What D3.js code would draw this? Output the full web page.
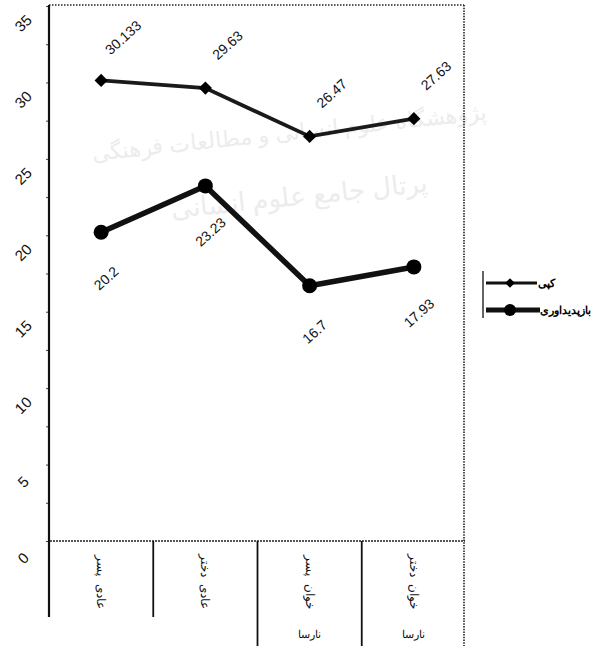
<!DOCTYPE html>
<html>
<head>
<meta charset="utf-8">
<script src="https://cdn.jsdelivr.net/npm/d3@7"></script>
<style>
  body { margin: 0; background: #fff; }
  svg { display: block; }
  text { font-family: "Liberation Sans", Arial, sans-serif; }
</style>
</head>
<body>
<svg id="chart" width="607" height="651"></svg>
<script>
// ---- data ----
const categories = ["پسر عادی", "دختر عادی", "پسر نارسا", "دختر نارسا"];
const catTop = ["پسر", "دختر", "پسر", "دختر"];
const catMid = ["عادی", "عادی", "خوان", "خوان"];
const catBottom = ["", "", "نارسا", "نارسا"];
const seriesNames = ["کپی", "بازپدیداوری"];
const copyValues = [30.133, 29.63, 26.47, 27.63];
const recallValues = [20.2, 23.23, 16.7, 17.93];
const copyLabels = ["30.133", "29.63", "26.47", "27.63"];
const recallLabels = ["20.2", "23.23", "16.7", "17.93"];
const yTicks = [0, 5, 10, 15, 20, 25, 30, 35];

const svg = d3.select("#chart");

// watermark
const wm = svg.append("g").attr("fill", "#ececec").attr("font-family", "'Noto Sans', 'DejaVu Sans', sans-serif");
wm.append("text").attr("x", 290).attr("y", 140).attr("text-anchor", "middle")
  .attr("font-size", 22).attr("transform", "rotate(-6,290,140)").text("پژوهشگاه علوم انسانی و مطالعات فرهنگی");
wm.append("text").attr("x", 300).attr("y", 205).attr("text-anchor", "middle")
  .attr("font-size", 26).attr("transform", "rotate(-6,300,205)").text("پرتال جامع علوم انسانی");

const x = d3.scaleBand().domain(categories).range([49, 466]).padding(0);
const y = d3.scaleLinear().domain([0, 35]).range([541, 6]);
const cx = c => x(c) + x.bandwidth() / 2;

// frame: dotted top/right/bottom
const frame = svg.append("g").attr("stroke", "#222").attr("fill", "none");
frame.append("line").attr("x1", 49).attr("x2", 464).attr("y1", 5).attr("y2", 5)
  .attr("stroke-width", 1.6).attr("stroke-dasharray", "1.5,1.5");
frame.append("line").attr("x1", 464).attr("x2", 464).attr("y1", 5).attr("y2", 646)
  .attr("stroke-width", 1.6).attr("stroke-dasharray", "1.5,1.2");
frame.append("line").attr("x1", 50).attr("x2", 465).attr("y1", y(0)).attr("y2", y(0))
  .attr("stroke-width", 1.6).attr("stroke-dasharray", "2,1");

// y axis
const yAxis = d3.axisLeft(y).tickValues(d3.range(0, 35.01, 2.5)).tickSize(3).tickFormat("");
const ya = svg.append("g").attr("transform", "translate(49,0)").call(yAxis);
ya.select(".domain").remove();
ya.selectAll(".tick line").attr("stroke", "#444").attr("stroke-width", 1);
svg.append("line").attr("x1", 49).attr("x2", 49).attr("y1", 5).attr("y2", 617)
  .attr("stroke", "#111").attr("stroke-width", 2.2);

// y tick labels (rotated)
svg.append("g").selectAll("text").data(yTicks).join("text")
  .attr("transform", d => `translate(23,${y(d) + 17}) rotate(-45)`)
  .attr("text-anchor", "middle").attr("dominant-baseline", "central")
  .attr("font-size", 15).attr("fill", "#111").text(d => d);

// category separators
const seps = svg.append("g").attr("stroke", "#111").attr("stroke-width", 1.8);
categories.forEach((c, i) => {
  if (i === 0) return;
  seps.append("line").attr("x1", x(c)).attr("x2", x(c)).attr("y1", y(0))
    .attr("y2", i >= 2 ? 646 : 617);
});

// category labels (rotated persian text)
const catG = svg.append("g").attr("font-family", "'Noto Sans', 'DejaVu Sans', sans-serif").attr("fill", "#111");
categories.forEach((c, i) => {
  catG.append("text").attr("transform", `translate(${cx(c)},565) rotate(90)`)
    .attr("text-anchor", "middle").attr("dominant-baseline", "central")
    .attr("font-size", 12).text(catTop[i]);
  catG.append("text").attr("transform", `translate(${cx(c)},596) rotate(90)`)
    .attr("text-anchor", "middle").attr("dominant-baseline", "central")
    .attr("font-size", 12).text(catMid[i]);
  if (catBottom[i]) {
    catG.append("text").attr("x", cx(c)).attr("y", 634).attr("text-anchor", "middle")
      .attr("dominant-baseline", "central").attr("font-size", 11).text(catBottom[i]);
  }
});

// lines
const line = d3.line().x((d, i) => cx(categories[i])).y(d => y(d));
svg.append("path").datum(copyValues).attr("d", line).attr("fill", "none")
  .attr("stroke", "#1a1a1a").attr("stroke-width", 3.8);
svg.append("path").datum(recallValues).attr("d", line).attr("fill", "none")
  .attr("stroke", "#111").attr("stroke-width", 5.5);

// markers
const diamond = d3.symbol().type(d3.symbolDiamond2).size(110);
svg.append("g").selectAll("path").data(copyValues).join("path")
  .attr("d", diamond)
  .attr("transform", (d, i) => `translate(${cx(categories[i])},${y(d)})`)
  .attr("fill", "#000");
svg.append("g").selectAll("circle").data(recallValues).join("circle")
  .attr("cx", (d, i) => cx(categories[i])).attr("cy", d => y(d)).attr("r", 7.5)
  .attr("fill", "#000");

// data labels
svg.append("g").selectAll("text").data(copyValues).join("text")
  .attr("transform", (d, i) => `translate(${cx(categories[i]) + 22},${y(d) - 43}) rotate(-42)`)
  .attr("text-anchor", "middle").attr("dominant-baseline", "central")
  .attr("font-size", 14).attr("fill", "#111").text((d, i) => copyLabels[i]);
svg.append("g").selectAll("text").data(recallValues).join("text")
  .attr("transform", (d, i) => `translate(${cx(categories[i]) + 5},${y(d) + 46}) rotate(-42)`)
  .attr("text-anchor", "middle").attr("dominant-baseline", "central")
  .attr("font-size", 14).attr("fill", "#111").text((d, i) => recallLabels[i]);

// legend
const lg = svg.append("g");
lg.append("line").attr("x1", 483).attr("x2", 483).attr("y1", 271).attr("y2", 318)
  .attr("stroke", "#222").attr("stroke-width", 1.4);
lg.append("line").attr("x1", 486).attr("x2", 537).attr("y1", 283).attr("y2", 283)
  .attr("stroke", "#111").attr("stroke-width", 3);
lg.append("path").attr("d", d3.symbol().type(d3.symbolDiamond2).size(60))
  .attr("transform", "translate(510,283)").attr("fill", "#000");
lg.append("line").attr("x1", 486).attr("x2", 540).attr("y1", 310).attr("y2", 310)
  .attr("stroke", "#111").attr("stroke-width", 5);
lg.append("circle").attr("cx", 510).attr("cy", 310).attr("r", 6).attr("fill", "#000");
lg.selectAll("text.leg").data(seriesNames).join("text").attr("class", "leg")
  .attr("x", (d, i) => i === 0 ? 538 : 540).attr("y", (d, i) => i === 0 ? 283 : 310)
  .attr("direction", "rtl").attr("text-anchor", "end").attr("dominant-baseline", "central")
  .attr("font-family", "'Noto Sans', 'DejaVu Sans', sans-serif").attr("font-weight", "bold")
  .attr("font-size", 11).attr("fill", "#000").text(d => d);
</script>
</body>
</html>
